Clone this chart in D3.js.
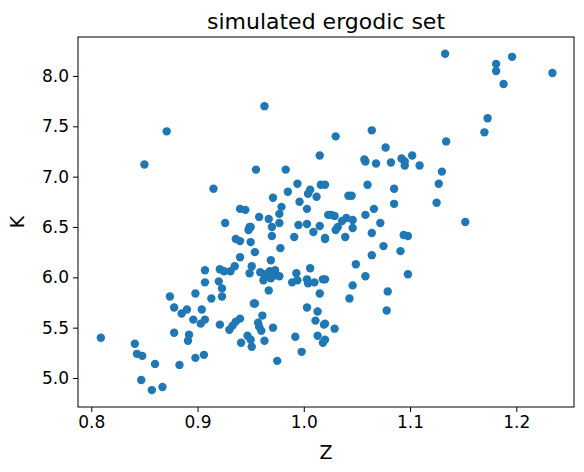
<!DOCTYPE html>
<html>
<head>
<meta charset="utf-8">
<script src="https://cdn.jsdelivr.net/npm/d3@7"></script>
<style>
body { margin: 0; background: #fff; }
text { font-family: "DejaVu Sans", sans-serif; }
</style>
</head>
<body>
<svg id="chart" width="584" height="472"></svg>
<script>
// data
var zVals = [0.850,0.871,0.963,0.915,0.955,0.983,1.015,0.994,1.016,0.985,1.006,1.004,1.012,0.971,0.996,0.940,0.945,0.979,1.003,0.958,
  0.967,0.977,0.926,0.949,0.977,0.995,1.003,1.015,1.023,1.133,1.181,1.181,1.196,1.234,1.188,1.173,1.170,1.064,1.030,1.134,
  1.077,1.057,1.058,1.068,1.082,1.092,1.102,1.095,1.095,1.109,1.130,1.127,1.125,1.060,1.085,1.085,1.066,1.058,1.042,1.045,
  1.020,1.152,1.026,1.029,1.040,1.046,1.036,1.072,1.032,1.039,1.046,1.030,1.064,1.094,1.098,1.075,1.091,1.064,1.049,1.058,
  1.098,1.046,1.079,1.043,1.078,1.029,1.020,1.020,1.020,1.020,0.809,0.841,0.843,0.848,0.860,0.847,0.857,0.867,0.883,0.878,
  0.892,0.891,0.898,0.906,0.874,0.878,0.885,0.890,0.896,0.904,0.903,0.907,0.898,0.907,0.907,0.913,0.921,0.920,0.923,0.923,
  0.921,0.925,0.931,0.935,0.936,0.940,0.940,0.950,0.948,0.950,0.954,0.951,0.949,0.959,0.963,0.968,0.973,0.977,0.962,0.969,
  0.973,0.969,0.978,0.970,0.970,0.967,0.953,0.954,0.961,0.957,0.958,0.960,0.971,0.940,0.936,0.933,0.930,0.947,0.950,0.951,
  0.941,0.963,0.975,0.991,1.009,1.020,0.993,0.989,0.994,1.006,1.003,1.004,1.010,1.018,1.015,1.003,1.013,1.011,1.019,0.992,
  1.013,1.018,0.998];
var kVals = [7.12,7.45,7.70,6.88,7.07,7.07,7.21,6.93,6.92,6.85,6.87,6.83,6.80,6.79,6.75,6.68,6.67,6.70,6.68,6.60,
  6.58,6.63,6.54,6.50,6.54,6.52,6.53,6.51,6.62,8.22,8.12,8.05,8.19,8.03,7.92,7.58,7.44,7.46,7.40,7.35,
  7.29,7.17,7.15,7.13,7.14,7.18,7.21,7.15,7.11,7.11,7.05,6.93,6.74,6.92,6.88,6.73,6.68,6.62,6.81,6.81,
  6.92,6.55,6.62,6.61,6.59,6.57,6.56,6.54,6.50,6.40,6.49,6.47,6.44,6.42,6.41,6.31,6.26,6.22,6.13,6.01,
  6.03,5.92,5.86,5.79,5.67,5.49,5.54,5.38,5.98,6.39,5.40,5.34,5.24,5.22,5.14,4.98,4.88,4.91,5.13,5.45,
  5.43,5.37,5.20,5.23,5.81,5.70,5.64,5.68,5.58,5.68,5.54,5.58,5.84,5.95,6.07,5.79,5.53,5.96,5.89,5.81,
  6.08,6.06,6.06,6.11,6.38,6.36,6.20,6.35,6.47,6.50,6.25,6.11,6.04,6.05,6.03,6.06,6.07,6.01,5.97,5.99,
  6.02,6.17,6.29,6.41,6.50,5.87,5.74,5.74,5.62,5.55,5.51,5.47,5.50,5.59,5.56,5.52,5.48,5.42,5.38,5.31,
  5.35,5.37,5.17,6.40,6.45,6.38,6.04,5.95,5.97,6.09,5.98,5.94,5.95,5.98,5.84,5.70,5.66,5.57,5.53,5.41,
  5.42,5.35,5.26];
var xTicks = [0.8, 0.9, 1.0, 1.1, 1.2];
var yTicks = [5.0, 5.5, 6.0, 6.5, 7.0, 7.5, 8.0];

var pLeft = 78, pRight = 574, pTop = 37, pBottom = 407;
var svg = d3.select("#chart");

var x = d3.scaleLinear().domain([0.7875, 1.2543]).range([pLeft, pRight]);
var y = d3.scaleLinear().domain([4.712, 8.387]).range([pBottom, pTop]);

var points = zVals.map(function(z, i) { return {z: z, k: kVals[i]}; });

svg.append("g")
  .selectAll("circle")
  .data(points)
  .enter()
  .append("circle")
    .attr("cx", function(d) { return x(d.z); })
    .attr("cy", function(d) { return y(d.k); })
    .attr("r", 4.2)
    .attr("fill", "#1f77b4");

var xAxis = svg.append("g")
  .attr("transform", "translate(0," + pBottom + ")")
  .call(d3.axisBottom(x).tickValues(xTicks).tickFormat(d3.format(".1f")).tickSize(5).tickPadding(4));
var yAxis = svg.append("g")
  .attr("transform", "translate(" + pLeft + ",0)")
  .call(d3.axisLeft(y).tickValues(yTicks).tickFormat(d3.format(".1f")).tickSize(5).tickPadding(4));
[xAxis, yAxis].forEach(function(a) {
  a.select(".domain").remove();
  a.attr("font-size", null).attr("font-family", null);
  a.selectAll("text").attr("font-size", "17px").attr("fill", "#000");
  a.selectAll("line").attr("stroke", "#000").attr("stroke-width", 1);
});

svg.append("rect")
  .attr("x", pLeft).attr("y", pTop)
  .attr("width", pRight - pLeft).attr("height", pBottom - pTop)
  .attr("fill", "none").attr("stroke", "#000").attr("stroke-width", 1);

svg.append("text").attr("x", (pLeft + pRight) / 2).attr("y", 29)
  .attr("text-anchor", "middle").attr("font-size", "22px").text("simulated ergodic set");
svg.append("text").attr("x", (pLeft + pRight) / 2).attr("y", 459)
  .attr("text-anchor", "middle").attr("font-size", "19px").text("Z");
svg.append("text").attr("transform", "translate(24," + (pTop + pBottom) / 2 + ") rotate(-90)")
  .attr("text-anchor", "middle").attr("font-size", "19px").text("K");
</script>
</body>
</html>
